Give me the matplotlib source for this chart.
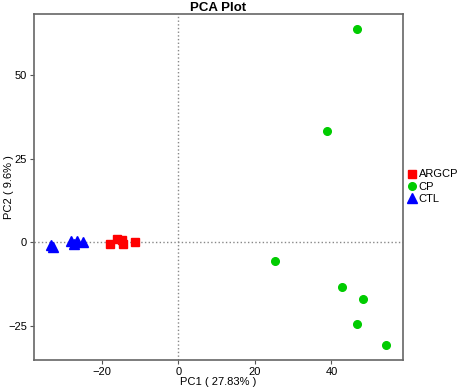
import matplotlib
matplotlib.use('Agg')
import matplotlib.pyplot as plt

plt.rcParams['font.family'] = ['Liberation Sans', 'DejaVu Sans']

# PCA scores per group
argcp_x = [-17.9, -16.0, -14.8, -14.5, -11.3]
argcp_y = [-0.6, 1.1, 0.6, -0.6, 0.0]
cp_x = [46.7, 38.8, 25.2, 42.7, 48.3, 46.7, 54.3]
cp_y = [63.8, 33.2, -5.7, -13.5, -17.1, -24.6, -30.8]
ctl_x = [-33.3, -32.7, -28.0, -27.2, -26.4, -24.8]
ctl_y = [-0.9, -1.4, 0.3, -0.4, 0.3, 0.2]

fig = plt.figure(figsize=(4.59, 3.89), dpi=100)
ax = fig.add_axes([0.074, 0.074, 0.804, 0.890])

ax.axvline(0, color='#888888', linestyle=':', linewidth=1, zorder=1)
ax.axhline(0, color='#888888', linestyle=':', linewidth=1, zorder=1)

ax.plot(argcp_x, argcp_y, 's', color='#FF0000', markersize=5.5, label='ARGCP', zorder=3)
ax.plot(cp_x, cp_y, 'o', color='#00CC00', markersize=5.5, label='CP', zorder=3)
ax.plot(ctl_x, ctl_y, '^', color='#0000FF', markersize=6.5, label='CTL', zorder=3)

ax.set_xlim(-37.7, 58.7)
ax.set_ylim(-35.3, 68.3)
ax.set_xticks([-20, 0, 20, 40])
ax.set_yticks([-25, 0, 25, 50])
ax.tick_params(labelsize=8, length=3, pad=2, color='#555555')
for s in ax.spines.values():
    s.set_color('#666666')
    s.set_linewidth(1.2)

ax.set_title('PCA Plot', fontsize=9.5, fontweight='bold', pad=1)
ax.set_xlabel('PC1 ( 27.83% )', fontsize=8, labelpad=0)
ax.set_ylabel('PC2 ( 9.6% )', fontsize=8)
ax.yaxis.set_label_coords(-0.055, 0.5)

fig.legend(loc='center left', bbox_to_anchor=(0.89, 0.52), frameon=False,
           fontsize=8, handlelength=0.6, handletextpad=0.3, labelspacing=0.2,
           borderaxespad=0, borderpad=0)

fig.savefig('out.png', dpi=100)
